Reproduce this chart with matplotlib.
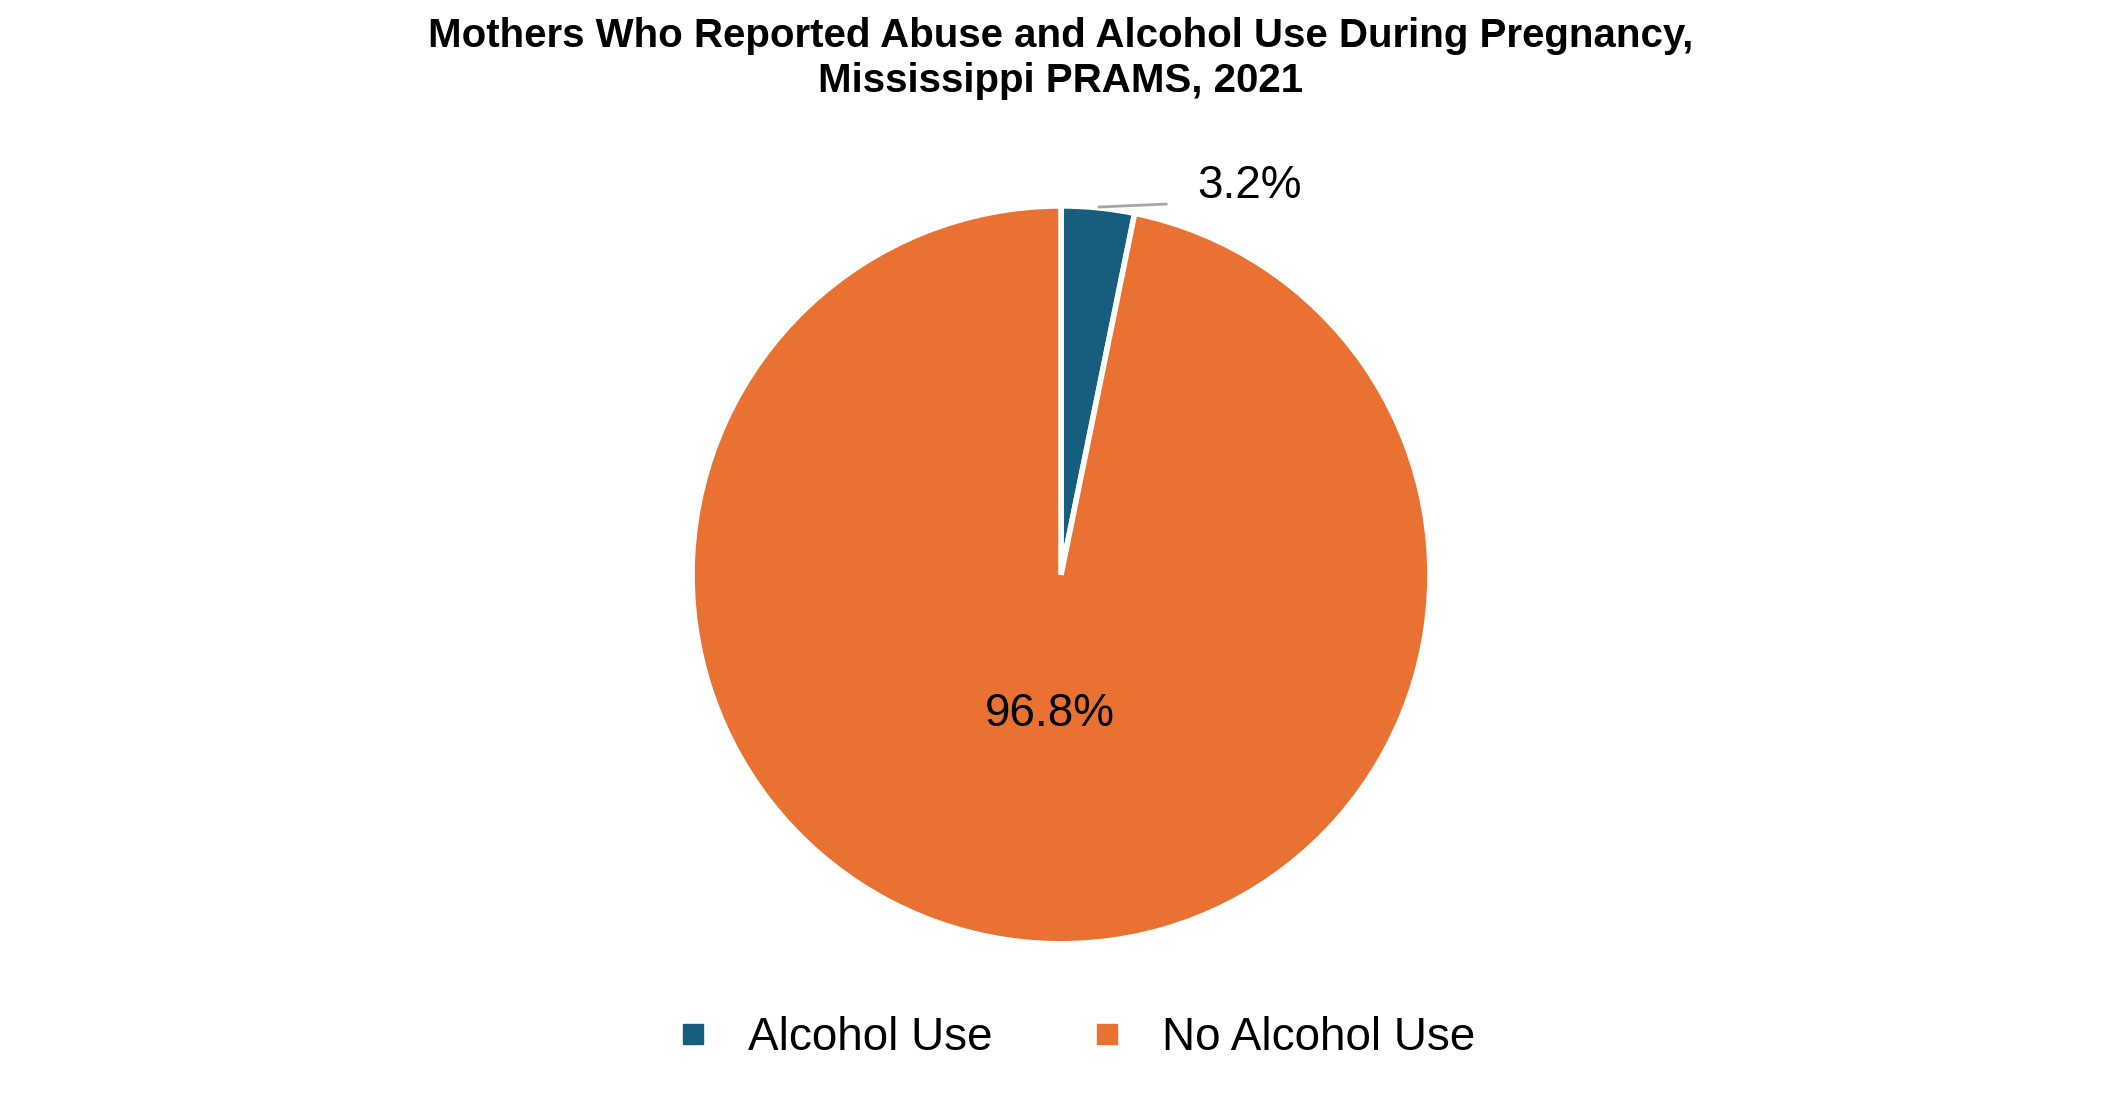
import matplotlib
matplotlib.use("Agg")
import matplotlib.pyplot as plt
from matplotlib.lines import Line2D

plt.rcParams['font.family'] = ['Liberation Sans', 'DejaVu Sans']

categories = ["Alcohol Use", "No Alcohol Use"]
values = [3.2, 96.8]
labels = ["3.2%", "96.8%"]
colors = ["#175E7E", "#E97132"]

fig = plt.figure(figsize=(21.22, 11.13), dpi=100)
ax = fig.add_axes([0.326, 0.152, 0.348, 0.663])
wedges, _ = ax.pie(values, colors=colors, startangle=90, counterclock=False,
                   wedgeprops=dict(edgecolor="white", linewidth=4))
ax.set_xlim(-1, 1); ax.set_ylim(-1, 1); ax.set_aspect('equal')
ax.axis('off')

ax.text(0.51, 1.054, labels[0], fontsize=33, ha='center', va='center')
ax.plot([0.103, 0.285], [0.997, 1.005], color="#A6A6A6", lw=2, clip_on=False)
ax.text(-0.03, -0.377, labels[1], fontsize=33, ha='center', va='center')

fig.suptitle("Mothers Who Reported Abuse and Alcohol Use During Pregnancy,\nMississippi PRAMS, 2021",
             fontsize=29, fontweight='bold', y=0.985, va='top', linespacing=1.25)

handles = [Line2D([], [], marker='s', ls='', color=c, markersize=14) for c in colors]
fig.legend(handles, categories, loc='center', bbox_to_anchor=(0.5, 0.067), ncol=2,
           frameon=False, fontsize=33, handletextpad=0.2, columnspacing=1.5)

fig.savefig("out.png", dpi=100)
